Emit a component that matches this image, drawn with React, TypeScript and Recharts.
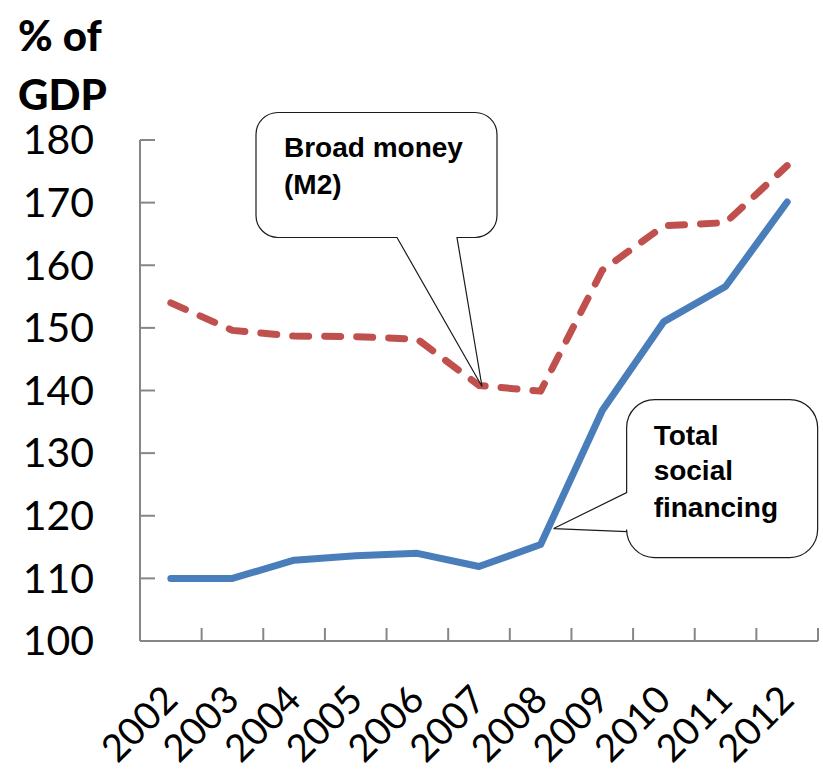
import React from 'react';
import { LineChart, Line, XAxis, YAxis, ReferenceDot } from 'recharts';

const years = ['2002', '2003', '2004', '2005', '2006', '2007', '2008', '2009', '2010', '2011', '2012'];
const totalSocialFinancing = [110, 110, 112.9, 113.6, 114, 111.9, 115.4, 136.8, 151, 156.6, 170.1];
const broadMoney = [154, 149.6, 148.7, 148.6, 148.2, 140.8, 139.9, 159.2, 166.3, 166.8, 175.9];
const yTicks = [100, 110, 120, 130, 140, 150, 160, 170, 180];

const data = years.map((y, i) => ({ year: y, tsf: totalSocialFinancing[i], m2: broadMoney[i] }));

const AXIS = '#868686';
const FONT = 'Lato, "Open Sans", sans-serif';

const XTick = (props: any) => {
  const { x, y, payload } = props;
  const off = payload && typeof payload.offset === 'number' && payload.offset > 0 ? payload.offset : 30.8;
  const ax = x + 9;
  const ay = y + 61;
  return (
    <g>
      <line x1={x + off} x2={x + off} y1={y - 13} y2={y} stroke={AXIS} strokeWidth={2} />
      <text
        x={ax}
        y={ay}
        transform={`rotate(-45, ${ax}, ${ay})`}
        textAnchor="end"
        fontSize={38}
        fontFamily={FONT}
        fill="#000"
      >
        {payload.value}
      </text>
    </g>
  );
};

const YTick = (props: any) => {
  const { x, y, payload } = props;
  return (
    <g>
      <line x1={x} x2={x + 15} y1={y} y2={y} stroke={AXIS} strokeWidth={2} />
      <text x={x - 46} y={y} dy="0.35em" textAnchor="end" fontSize={41} fontFamily={FONT} fill="#000">
        {payload.value}
      </text>
    </g>
  );
};

const m2Callout = (props: any) => {
  const { cx, cy } = props;
  const tx = cx + 3;
  const ty = cy + 1;
  const L = tx - 226, R = tx + 15, T = ty - 274, B = ty - 149, r = 22;
  const p1 = tx - 85, p2 = tx - 25;
  const d = `M${L + r},${T} H${R - r} A${r},${r} 0 0 1 ${R},${T + r} V${B - r} A${r},${r} 0 0 1 ${R - r},${B} H${p2} L${tx},${ty} L${p1},${B} H${L + r} A${r},${r} 0 0 1 ${L},${B - r} V${T + r} A${r},${r} 0 0 1 ${L + r},${T} Z`;
  return (
    <g>
      <path d={d} fill="#fff" stroke="#1a1a1a" strokeWidth={1.2} />
      <text x={L + 28} y={T + 45} fontSize={28} fontWeight="bold" fontFamily="'Liberation Sans', Arial, sans-serif" fill="#000">
        Broad money
      </text>
      <text x={L + 28} y={T + 82} fontSize={28} fontWeight="bold" fontFamily="'Liberation Sans', Arial, sans-serif" fill="#000">
        (M2)
      </text>
    </g>
  );
};

const tsfCallout = (props: any) => {
  const { cx, cy } = props;
  const tx = cx + 13;
  const ty = cy - 16;
  const L = tx + 73, R = tx + 264, T = ty - 129, B = ty + 29, r = 28;
  const q1 = ty - 36, q2 = ty + 3;
  const d = `M${L + r},${T} H${R - r} A${r},${r} 0 0 1 ${R},${T + r} V${B - r} A${r},${r} 0 0 1 ${R - r},${B} H${L + r} A${r},${r} 0 0 1 ${L},${B - r} V${q2} L${tx},${ty} L${L},${q1} V${T + r} A${r},${r} 0 0 1 ${L + r},${T} Z`;
  const fs = { fontSize: 28, fontWeight: 'bold' as const, fontFamily: "'Liberation Sans', Arial, sans-serif", fill: '#000' };
  return (
    <g>
      <path d={d} fill="#fff" stroke="#1a1a1a" strokeWidth={1.2} />
      <text x={L + 27} y={T + 45} {...fs}>Total</text>
      <text x={L + 27} y={T + 80} {...fs}>social</text>
      <text x={L + 27} y={T + 117} {...fs}>financing</text>
    </g>
  );
};

export default function App() {
  return (
    <div style={{ position: 'absolute', left: 0, top: 0, width: 823, height: 772, background: '#fff' }}>
      <div
        style={{
          position: 'absolute',
          left: 18,
          top: 6,
          fontFamily: FONT,
          fontWeight: 900,
          fontSize: 42,
          lineHeight: '59px',
          color: '#000',
        }}
      >
        % of
        <br />
        GDP
      </div>
      <LineChart width={823} height={772} data={data} margin={{ top: 140, right: 5, left: 0, bottom: 0 }}>
        <XAxis
          dataKey="year"
          scale="band"
          height={131}
          axisLine={{ stroke: AXIS, strokeWidth: 2 }}
          tickLine={false}
          tickSize={0}
          tickMargin={0}
          tick={<XTick />}
          interval={0}
        />
        <YAxis
          width={140}
          domain={[100, 180]}
          ticks={yTicks}
          type="number"
          axisLine={{ stroke: AXIS, strokeWidth: 2 }}
          tickLine={false}
          tickSize={0}
          tickMargin={0}
          tick={<YTick />}
          interval={0}
        />
        <Line
          dataKey="tsf"
          type="linear"
          stroke="#4A7EBB"
          strokeWidth={7}
          strokeLinecap="round"
          strokeLinejoin="round"
          dot={false}
          isAnimationActive={false}
        />
        <Line
          dataKey="m2"
          type="linear"
          stroke="#C0504D"
          strokeWidth={7}
          strokeLinecap="round"
          strokeLinejoin="round"
          strokeDasharray="16 16"
          dot={false}
          isAnimationActive={false}
        />
        <ReferenceDot x={years[5]} y={broadMoney[5]} shape={m2Callout} ifOverflow="visible" />
        <ReferenceDot x={years[6]} y={totalSocialFinancing[6]} shape={tsfCallout} ifOverflow="visible" />
      </LineChart>
    </div>
  );
}
